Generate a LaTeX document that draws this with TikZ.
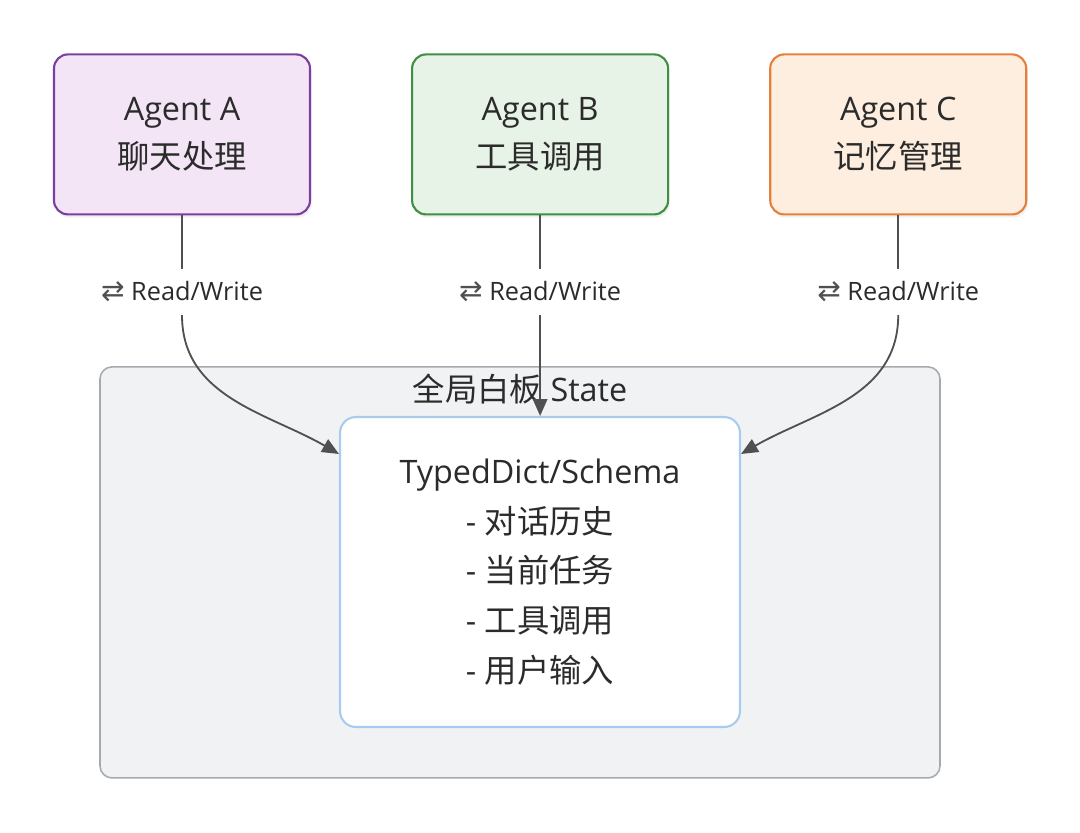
\documentclass[tikz,border=0pt]{standalone}
\usepackage{fontspec}
\setmainfont{Open Sans}
\newfontfamily\cjk{Noto Sans CJK SC}
\newfontfamily\symfont{DejaVu Sans}
\usepackage{xcolor}
\usetikzlibrary{positioning,arrows.meta,shadows}

\definecolor{purpleline}{HTML}{7B3FA0}
\definecolor{purplefill}{HTML}{F3E5F6}
\definecolor{greenline}{HTML}{3F8F45}
\definecolor{greenfill}{HTML}{E7F3E6}
\definecolor{orangeline}{HTML}{E5803C}
\definecolor{orangefill}{HTML}{FDEEDF}
\definecolor{boardline}{HTML}{A6AAAF}
\definecolor{boardfill}{HTML}{F1F2F4}
\definecolor{schemaline}{HTML}{A9CCEE}
\definecolor{textgray}{HTML}{2B2B2B}
\definecolor{linegray}{HTML}{505050}

\begin{document}
\begin{tikzpicture}[node distance=2.5cm and 2.5cm,
    agent/.style={rectangle, draw, rounded corners=0.35cm, line width=1.5pt, minimum width=6.4cm, minimum height=4cm, align=center, text=textgray, font=\fontsize{23}{34}\selectfont, drop shadow={opacity=0.12, shadow xshift=0.04cm, shadow yshift=-0.08cm}},
    rw/.style={minimum height=1.15cm, inner sep=2pt, text=textgray, font=\fontsize{18}{21}\selectfont},
    board/.style={rectangle, draw=boardline, fill=boardfill, rounded corners=0.3cm, line width=1.1pt, minimum width=21cm, minimum height=10.275cm},
    schema/.style={rectangle, draw=schemaline, fill=white, rounded corners=0.4cm, line width=1.5pt, minimum width=10cm, minimum height=7.75cm, align=center, text=textgray, font=\fontsize{23}{35.5}\selectfont},
    link/.style={draw=linegray, line width=1.3pt},
    tip/.style={-{Triangle[length=0.42cm, width=0.36cm]}}]

    \useasboundingbox (0,0) rectangle (27,-20.8);

    % shared state
    \node [board] (board) at (13,-14.31) {};
    \node [text=textgray, font=\fontsize{23}{28}\selectfont] (boardtitle) at ([yshift=-0.58cm]board.north) {{\cjk 全局白板} State};
    \node [schema] (schema) at (13.5,-14.3) {TypedDict/Schema\\- {\cjk 对话历史}\\- {\cjk 当前任务}\\- {\cjk 工具调用}\\- {\cjk 用户输入}};

    % agents
    \node [agent, draw=purpleline, fill=purplefill] (agentA) at (4.55,-3.36) {Agent A\\{\cjk 聊天处理}};
    \node [agent, draw=greenline, fill=greenfill, right=of agentA] (agentB) {Agent B\\{\cjk 工具调用}};
    \node [agent, draw=orangeline, fill=orangefill, right=of agentB] (agentC) {Agent C\\{\cjk 记忆管理}};

    \node [rw, below=1.33cm of agentA] (rwA) {{\color{linegray}\symfont\fontsize{20}{21}\selectfont ⇄} Read/Write};
    \node [rw, below=1.33cm of agentB] (rwB) {{\color{linegray}\symfont\fontsize{20}{21}\selectfont ⇄} Read/Write};
    \node [rw, below=1.33cm of agentC] (rwC) {{\color{linegray}\symfont\fontsize{20}{21}\selectfont ⇄} Read/Write};

    \coordinate (inA) at ([yshift=-0.95cm]schema.north west);
    \coordinate (inC) at ([yshift=-0.95cm]schema.north east);

    \draw [link] (agentA) -- (rwA);
    \draw [link] (agentB) -- (rwB);
    \draw [link] (agentC) -- (rwC);
    \draw [link, tip] (rwA) to[out=-90, in=150] (inA);
    \draw [link, tip] (rwB) -- (rwB |- schema.north);
    \draw [link, tip] (rwC) to[out=-90, in=30] (inC);
\end{tikzpicture}
\end{document}
